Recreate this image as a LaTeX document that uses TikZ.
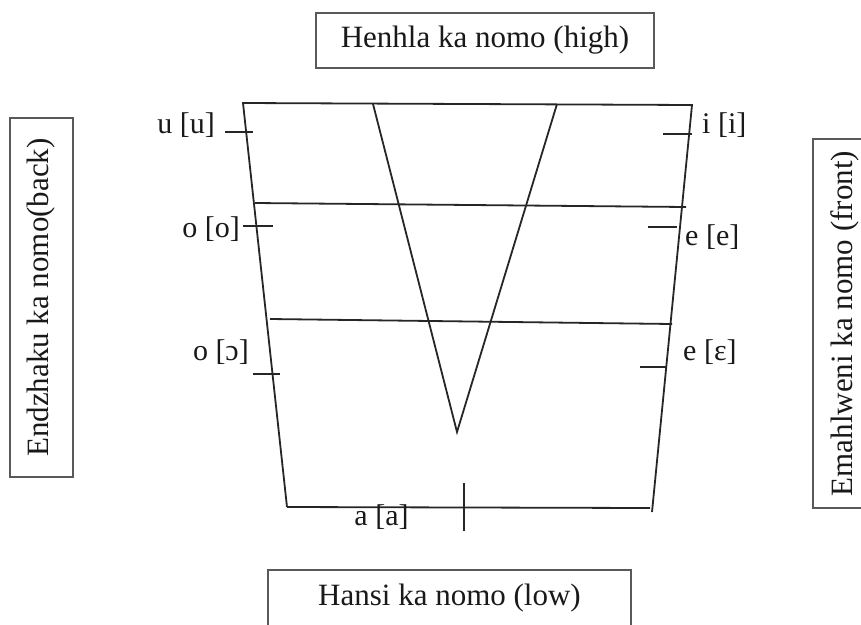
\documentclass[tikz,border=0pt]{standalone}
\usepackage{fontspec}
\setmainfont{Liberation Serif}
\begin{document}
\begin{tikzpicture}[x=1pt,y=-1pt,
  ln/.style={line width=1.8pt, color=black!85},
  box/.style={draw=black!65, line width=1.1pt, inner sep=0pt, font=\fontsize{31}{36}\selectfont, text=black!90},
  vl/.style={inner sep=0pt, font=\fontsize{30}{34}\selectfont, text=black!90}]
\clip (0,0) rectangle (861,624);
\fill[white] (0,0) rectangle (861,624);
% boxes
\node[box, minimum width=338, minimum height=55] (high) at (485,40.5) {Henhla ka nomo (high)};
\node[box, minimum width=363, minimum height=56] (low) at (449.5,598) {Hansi ka nomo (low)};
\node[box, rotate=90, minimum width=359, minimum height=63] (back) at (41.5,297.5) {Endzhaku ka nomo(back)};
\node[box, rotate=90, minimum width=369, minimum height=63] (front) at (844.5,323.5) {Emahlweni ka nomo (front)};
% trapezoid
\coordinate (tl) at (243,103);
\coordinate (tr) at (692,105);
\coordinate (bl) at (287,507);
\coordinate (br) at (652,512);
\coordinate (bbr) at (650,508);
\draw[ln] (bl) -- (tl) -- (tr) -- (br);
\draw[ln] (bl) -- (bbr);
% horizontal lines
\coordinate (h1l) at (255,203); \coordinate (h1r) at (686,207);
\coordinate (h2l) at (270,319); \coordinate (h2r) at (672,324);
\draw[ln] (h1l) -- (h1r);
\draw[ln] (h2l) -- (h2r);
% V
\coordinate (va) at (373,104); \coordinate (vb) at (457,432); \coordinate (vc) at (557,104);
\draw[ln, line join=miter] (va) -- (vb) -- (vc);
% ticks
\coordinate (tu1) at (225,132); \coordinate (tu2) at (253,132);
\coordinate (to1) at (243,226); \coordinate (to2) at (273,226);
\coordinate (tc1) at (253,374); \coordinate (tc2) at (280,374);
\coordinate (ti1) at (663,134); \coordinate (ti2) at (692,134);
\coordinate (te1) at (648,227); \coordinate (te2) at (677,227);
\coordinate (tE1) at (640,367); \coordinate (tE2) at (667,367);
\coordinate (ta1) at (464,483); \coordinate (ta2) at (464,531);
\draw[ln] (tu1) -- (tu2);
\draw[ln] (to1) -- (to2);
\draw[ln] (tc1) -- (tc2);
\draw[ln] (ti1) -- (ti2);
\draw[ln] (te1) -- (te2);
\draw[ln] (tE1) -- (tE2);
\draw[ln] (ta1) -- (ta2);
% vowel labels
\node[vl, anchor=base east] (u) at (215,133) {u [u]};
\node[vl, anchor=base east] (o) at (240,237) {o [o]};
\node[vl, anchor=base east] (oo) at (249,360) {o [ɔ]};
\node[vl, anchor=base west] (i) at (702,133) {i [i]};
\node[vl, anchor=base west] (e) at (685,245) {e [e]};
\node[vl, anchor=base west] (ee) at (683,360) {e [ɛ]};
\node[vl, anchor=base] (a) at (381.5,525) {a [a]};
\end{tikzpicture}
\end{document}
